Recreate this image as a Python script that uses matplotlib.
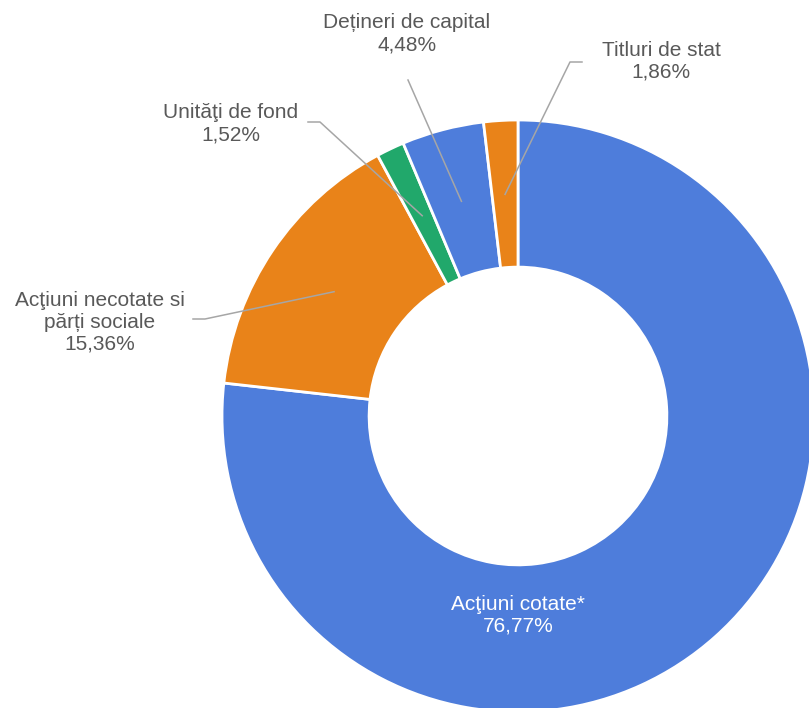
import numpy as np
import matplotlib
matplotlib.use("Agg")
import matplotlib.pyplot as plt

plt.rcParams['font.family'] = ['Liberation Sans', 'DejaVu Sans']

# date
categorii = ['Acţiuni cotate*', 'Acţiuni necotate si\npărți sociale', 'Unităţi de fond',
             'Dețineri de capital', 'Titluri de stat']
valori = [76.77, 15.36, 1.52, 4.48, 1.86]
culori = ['#4E7DDB', '#E98319', '#21A86B', '#4E7DDB', '#E98319']

W, H = 809, 708
cx, cy, R = 518, H - 416, 296  # centrul inelului (px)

fig = plt.figure(figsize=(W / 100, H / 100), dpi=100)
ax = fig.add_axes([0, 0, 1, 1])
wedges, _ = ax.pie(valori, colors=culori, startangle=90, counterclock=False,
                   center=(cx, cy), radius=R,
                   wedgeprops=dict(width=R * 0.497, edgecolor='white', linewidth=2))
ax.set_xlim(0, W)
ax.set_ylim(0, H)
ax.set_aspect('equal')
ax.axis('off')

def fmt(v):
    return ('%.2f%%' % v).replace('.', ',')

# eticheta de pe felia mare
ax.text(518, H - 615, categorii[0] + '\n' + fmt(valori[0]), ha='center', va='center',
        fontsize=15, color='white', linespacing=1.2)

# etichete exterioare: (pozitie text, cot linie, capat linie langa text)
etichete = {
    1: ((100, H - 322), (205, H - 319), (193, H - 319)),
    2: ((231, H - 124), (320, H - 122), (308, H - 122)),
    3: ((407, H - 34), (408, H - 80), (408, H - 80)),
    4: ((661, H - 61), (570, H - 62), (582, H - 62)),
}
for i, (pt, cot, cap) in etichete.items():
    w = wedges[i]
    ang = np.deg2rad((w.theta1 + w.theta2) / 2)
    x0 = cx + 0.75 * R * np.cos(ang)
    y0 = cy + 0.75 * R * np.sin(ang)
    ax.plot([x0, cot[0], cap[0]], [y0, cot[1], cap[1]], color='#A6A6A6', lw=1.1)
    ax.text(pt[0], pt[1], categorii[i] + '\n' + fmt(valori[i]), ha='center', va='center',
            fontsize=15, color='#595959', linespacing=1.2)

fig.savefig('out.png', dpi=100)
